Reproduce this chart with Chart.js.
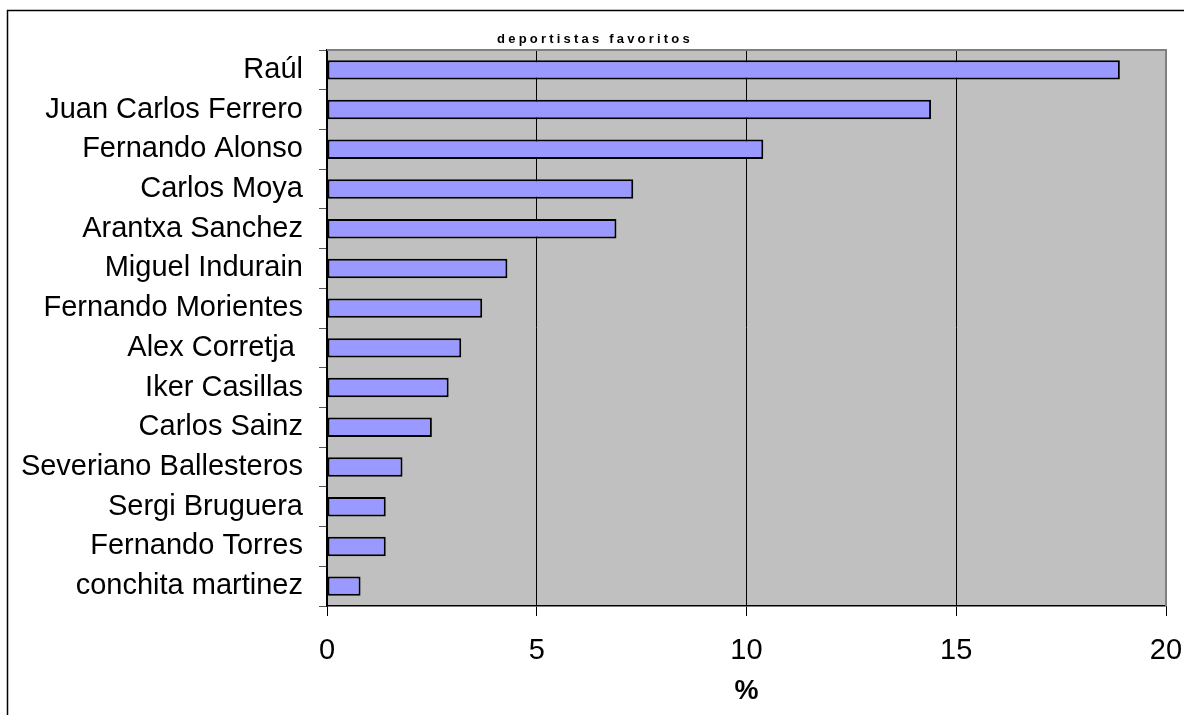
<!DOCTYPE html>
<html><head><meta charset="utf-8">
<script src="https://cdn.jsdelivr.net/npm/chart.js@4"></script>
<style>html,body{margin:0;padding:0;background:#fff;overflow:hidden}canvas{display:block}</style>
</head><body>
<canvas id="c" width="1184" height="715"></canvas>
<script>
const categories = ["Raúl","Juan Carlos Ferrero","Fernando Alonso","Carlos Moya","Arantxa Sanchez","Miguel Indurain","Fernando Morientes","Alex Corretja ","Iker Casillas","Carlos Sainz","Severiano Ballesteros","Sergi Bruguera","Fernando Torres","conchita martinez"];
const values = [18.9,14.4,10.4,7.3,6.9,4.3,3.7,3.2,2.9,2.5,1.8,1.4,1.4,0.8];
const xTicks = [0,5,10,15,20];
const chartTitle = "deportistas favoritos";
const axisTitle = "%";

const framePlugin = {
  id: 'frame',
  beforeDraw(chart) {
    const {ctx, chartArea: a} = chart;
    ctx.save();
    ctx.fillStyle = '#fff';
    ctx.fillRect(0, 0, chart.width, chart.height);
    ctx.strokeStyle = '#000';
    ctx.lineWidth = 1.5;
    ctx.strokeRect(7.5, 10.5, 3000, 3000);
    ctx.fillStyle = '#C0C0C0';
    ctx.fillRect(a.left, a.top, a.right - a.left, a.bottom - a.top);
    ctx.restore();
  },
  afterDraw(chart) {
    const {ctx, chartArea: a} = chart;
    ctx.save();
    ctx.strokeStyle = '#808080';
    ctx.lineWidth = 2;
    ctx.beginPath();
    ctx.moveTo(a.left, a.top);
    ctx.lineTo(a.right, a.top);
    ctx.lineTo(a.right, a.bottom);
    ctx.stroke();
    // title
    ctx.fillStyle = '#000';
    ctx.font = 'bold 13px "Liberation Sans", Arial, sans-serif';
    ctx.letterSpacing = '3.2px';
    ctx.textAlign = 'left';
    ctx.textBaseline = 'alphabetic';
    const w = ctx.measureText(chartTitle).width;
    ctx.fillText(chartTitle, 595 - w / 2, 43);
    ctx.restore();
  }
};

new Chart(document.getElementById('c'), {
  type: 'bar',
  data: {
    labels: categories,
    datasets: [{
      data: values,
      backgroundColor: '#9999FF',
      borderColor: '#000',
      borderWidth: 2,
      borderSkipped: false,
      barPercentage: 0.49,
      categoryPercentage: 1
    }]
  },
  options: {
    indexAxis: 'y',
    responsive: false,
    animation: false,
    events: [],
    layout: { padding: { top: 50, right: 18, left: 0, bottom: 0 } },
    plugins: { legend: { display: false }, title: { display: false }, tooltip: { enabled: false } },
    scales: {
      x: {
        min: xTicks[0],
        max: xTicks[xTicks.length - 1],
        ticks: {
          stepSize: xTicks[1] - xTicks[0],
          color: '#000',
          font: { family: '"Liberation Sans", Arial, sans-serif', size: 29 },
          padding: 18,
          maxRotation: 0
        },
        grid: { color: '#000', lineWidth: 1, tickLength: 10, tickColor: '#000' },
        border: { display: true, color: '#000', width: 1.5 },
        title: {
          display: true,
          text: axisTitle,
          color: '#000',
          font: { family: '"Liberation Sans", Arial, sans-serif', size: 27, weight: 'bold' },
          padding: { top: 0, bottom: 7 }
        },
        afterFit(s) { s.height = 109; s.paddingRight = 0; s.paddingLeft = 0; }
      },
      y: {
        ticks: {
          color: '#000',
          font: { family: '"Liberation Sans", Arial, sans-serif', size: 29 },
          padding: 16,
          autoSkip: false
        },
        grid: { drawOnChartArea: false, tickLength: 8, color: '#555', offset: true },
        border: { display: true, color: '#000', width: 1.5 },
        afterFit(s) { s.width = 327; s.paddingTop = 0; s.paddingBottom = 0; }
      }
    }
  },
  plugins: [framePlugin]
});
</script>
</body></html>
